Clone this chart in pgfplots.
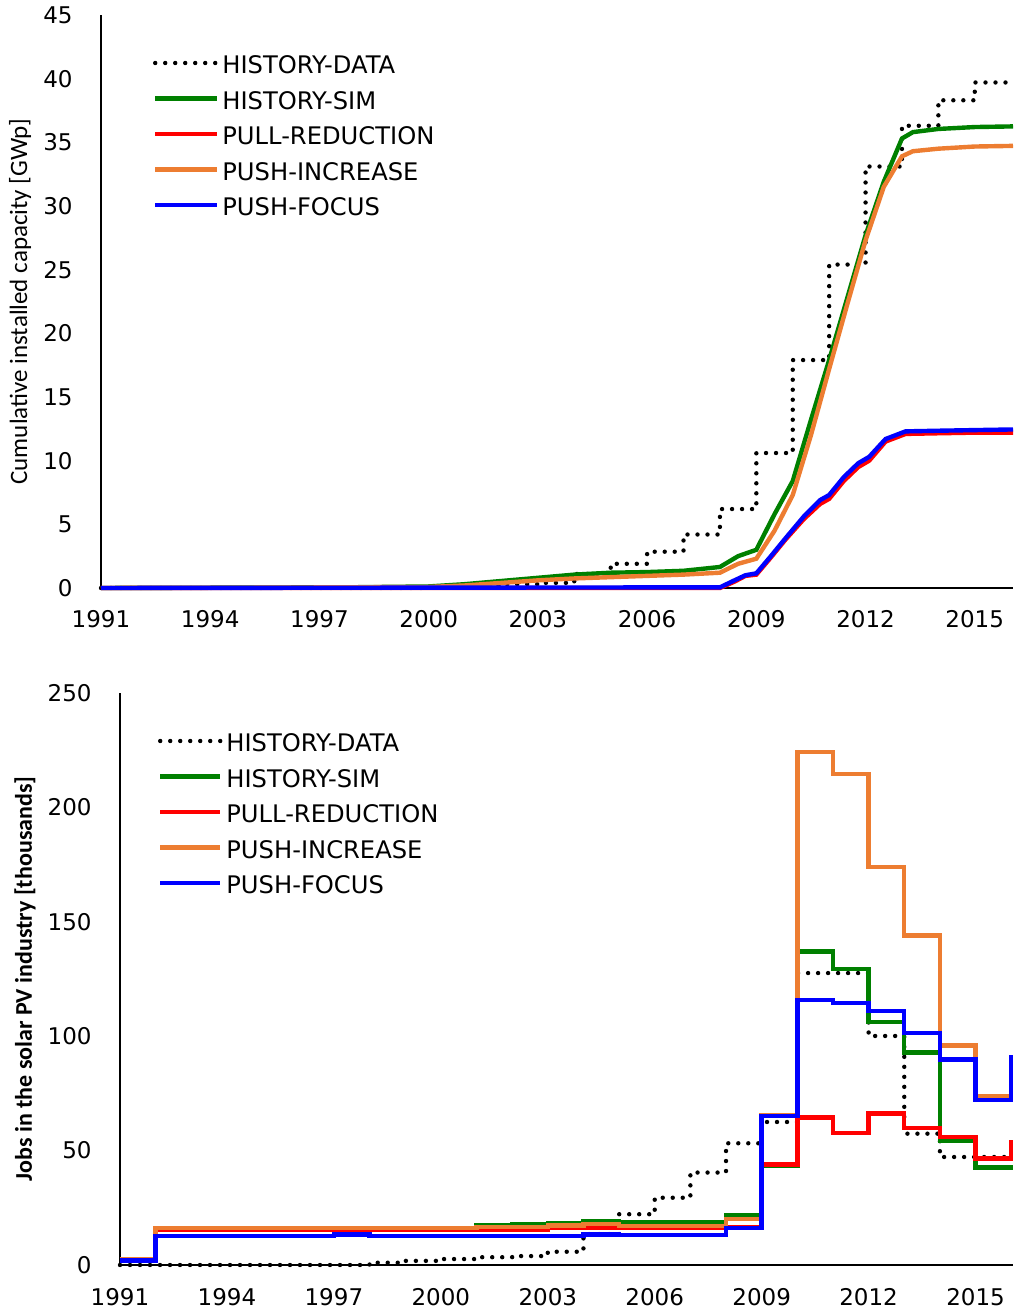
\documentclass[border=0pt]{standalone}
\usepackage{pgfplots}
\pgfplotsset{compat=1.18}
\usepackage{fontspec}
\setmainfont{DejaVu Sans}
\newfontfamily\carlito{Carlito}
\definecolor{cgreen}{RGB}{0,128,0}
\definecolor{cred}{RGB}{255,0,0}
\definecolor{corange}{RGB}{237,125,49}
\definecolor{cblue}{RGB}{0,0,255}
\pgfplotsset{
  myaxis/.style={
    scale only axis,
    axis x line=bottom, axis y line=left,
    axis line style={-, black, line width=0.9pt},
    xmin=1991, xmax=2016.05,
    xtick={1991,1994,...,2015},
    major tick length=0pt,
    tick style={draw=none},
    /pgf/number format/assume math mode=true,
    /pgf/number format/1000 sep={},
    xticklabel style={anchor=north, inner sep=0pt, yshift=-11pt, font=\fontsize{11.5}{13}\selectfont},
    yticklabel style={anchor=east, inner sep=0pt, xshift=-14pt, font=\fontsize{11.5}{13}\selectfont},
    clip=false,
    legend cell align=left,
    legend style={draw=none, fill=none, inner sep=0pt, outer sep=0pt, column sep=1.5pt, row sep=5.75pt,
      font=\fontsize{12.1}{14}\selectfont,
      nodes={inner sep=0pt, text height=9.5pt, text depth=2.5pt},
      at={(axis description cs:0,1)}, anchor=north west},
  },
  sdata/.style={black, line width=2.2pt, dash pattern=on 0pt off 5pt, line cap=round},
  ssim/.style={cgreen, line width=2.2pt},
  sred/.style={cred, line width=2.2pt},
  sorange/.style={corange, line width=2.2pt},
  sblue/.style={cblue, line width=2.2pt},
}
\begin{document}
\begin{tikzpicture}
\useasboundingbox (0,0) rectangle (506.5pt,655pt);
% ---------------- top panel ----------------
\begin{axis}[myaxis,
  at={(50.5pt,361pt)}, anchor=south west,
  width=456pt, height=286.5pt,
  ymin=0, ymax=45, ytick={0,5,...,45},
  ylabel={Cumulative installed capacity [GWp]},
  ylabel style={font=\carlito\fontsize{12.5}{14}\selectfont, at={(axis description cs:-0.0888,0.5)}, anchor=center},
  legend image code/.code={\draw[#1] (0pt,2pt) -- (31pt,2pt);},
  legend style={xshift=26pt, yshift=-20pt},
]
\addplot[sdata, const plot] coordinates {
(1991,0) (2000,0.1) (2001,0.2) (2002,0.3) (2003,0.4) (2004,1.1) (2005,1.9) (2006,2.85)
(2007,4.2) (2008,6.2) (2009,10.6) (2010,17.9) (2011,25.4) (2012,33.1) (2013,36.3)
(2014,38.3) (2015,39.7) (2016.05,39.7)};
\addlegendentry{HISTORY-DATA}
\addplot[ssim] coordinates {
(1991,0) (1995,0.03) (1998,0.06) (2000,0.12) (2001,0.3) (2002,0.55) (2003,0.8) (2004,1.05)
(2005,1.2) (2006,1.25) (2007,1.35) (2008,1.65) (2008.5,2.5) (2009,3.0) (2009.5,5.8)
(2010,8.4) (2010.5,13.2) (2011,17.9) (2011.5,22.8) (2012,27.7) (2012.5,31.9) (2013,35.3)
(2013.3,35.8) (2014,36.05) (2015,36.2) (2016.05,36.25)};
\addlegendentry{HISTORY-SIM}
\addplot[sred] coordinates {
(1991,0) (2008,0.0) (2008.4,0.5) (2008.7,0.95) (2009,1.05) (2009.4,2.4) (2009.8,3.8)
(2010.3,5.4) (2010.75,6.6) (2011,7.0) (2011.4,8.4) (2011.8,9.5) (2012.1,10.0) (2012.55,11.5)
(2013.1,12.1) (2014,12.15) (2015,12.2) (2016.05,12.2)};
\addlegendentry{PULL-REDUCTION}
\addplot[sorange] coordinates {
(1991,0) (1995,0.02) (2000,0.08) (2001,0.2) (2002,0.4) (2003,0.6) (2004,0.75) (2005,0.85)
(2006,0.95) (2007,1.05) (2008,1.2) (2008.5,1.9) (2009,2.3) (2009.5,4.5) (2010,7.3)
(2010.5,12.0) (2011,17.2) (2011.5,22.3) (2012,27.3) (2012.5,31.5) (2013,33.9) (2013.3,34.3)
(2014,34.5) (2015,34.67) (2016.05,34.72)};
\addlegendentry{PUSH-INCREASE}
\addplot[sblue] coordinates {
(1991,0) (2008,0.05) (2008.4,0.6) (2008.7,1.0) (2009,1.15) (2009.4,2.5) (2009.8,3.9)
(2010.3,5.6) (2010.75,6.9) (2011,7.3) (2011.4,8.7) (2011.8,9.8) (2012.1,10.3) (2012.55,11.7)
(2013.1,12.3) (2014,12.35) (2015,12.4) (2016.05,12.45)};
\addlegendentry{PUSH-FOCUS}
\end{axis}
% ---------------- bottom panel ----------------
\begin{axis}[myaxis,
  at={(60pt,22.5pt)}, anchor=south west,
  width=446.5pt, height=286pt,
  ymin=0, ymax=250, ytick={0,50,...,250},
  xticklabel style={yshift=-0.7pt},
  ylabel={Jobs in the solar PV industry [thousands]},
  ylabel style={font=\carlito\bfseries\fontsize{12}{14}\selectfont, at={(axis description cs:-0.1064,0.5)}, anchor=center},
  legend image code/.code={\draw[#1] (0pt,2pt) -- (30pt,2pt);},
  legend style={xshift=19pt, yshift=-20pt, column sep=2pt},
]
\addplot[sdata, const plot] coordinates {
(1991,0) (1998,1.0) (1999,1.8) (2000,2.6) (2001,3.4) (2002,3.9) (2003,5.8) (2004,13.5)
(2005,22.2) (2006,29.4) (2007,40.4) (2008,53.2) (2009,62.5) (2010,127.6) (2011,127.6)
(2012,100.1) (2013,57.4) (2014,47.2) (2015,47.2) (2016.05,47.2)};
\addlegendentry{HISTORY-DATA}
\addplot[ssim, const plot] coordinates {
(1991,2.5) (1992,16.0) (2001,17.3) (2002,17.8) (2003,18.2) (2004,19.2) (2005,18.5)
(2008,21.7) (2009,43.3) (2010,137.0) (2011,129.4) (2012,106.1) (2013,92.9) (2014,54.2)
(2015,42.6) (2016.05,42.6)};
\addlegendentry{HISTORY-SIM}
\addplot[sred, const plot] coordinates {
(1991,2.5) (1992,15.6) (2003,16.4) (2005,16.3) (2008,16.6) (2009,44.0) (2010,64.4)
(2011,57.6) (2012,66.3) (2013,59.8) (2014,56.0) (2015,46.5) (2016,53.5) (2016.05,53.5)};
\addlegendentry{PULL-REDUCTION}
\addplot[sorange, const plot] coordinates {
(1991,2.5) (1992,16.3) (2001,16.5) (2003,17.2) (2004,17.8) (2005,17.1) (2008,20.0)
(2009,65.6) (2010,224.1) (2011,214.6) (2012,173.9) (2013,144.0) (2014,95.9) (2015,73.6)
(2016,91) (2016.05,91)};
\addlegendentry{PUSH-INCREASE}
\addplot[sblue, const plot] coordinates {
(1991,2.0) (1992,12.7) (1997,13.3) (1998,12.7) (2004,13.4) (2005,13.0) (2008,16.2)
(2009,65.2) (2010,115.9) (2011,114.4) (2012,111.1) (2013,101.3) (2014,89.9) (2015,72.2)
(2016,91) (2016.05,91)};
\addlegendentry{PUSH-FOCUS}
\end{axis}
\end{tikzpicture}
\end{document}
